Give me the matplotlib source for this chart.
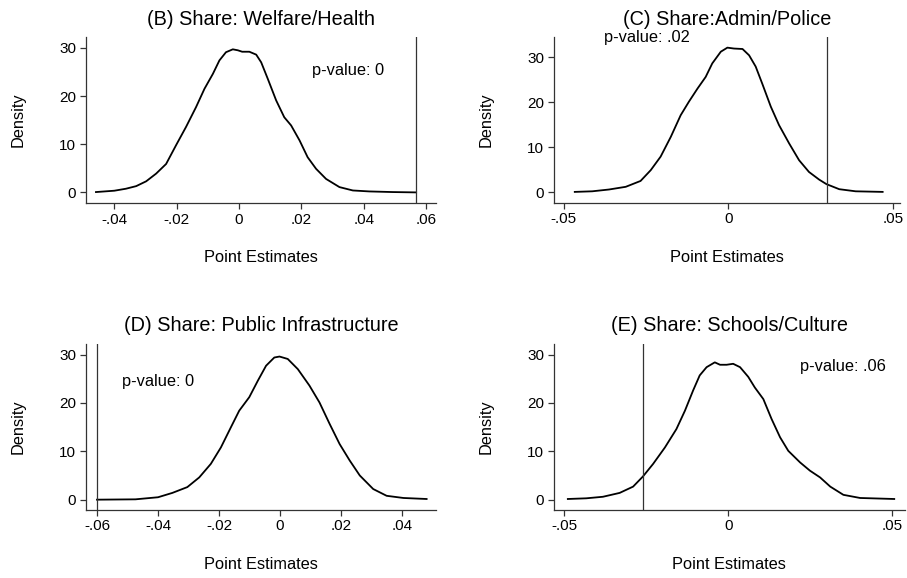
import matplotlib.pyplot as plt
import numpy as np

plt.rcParams['font.family'] = ['Liberation Sans', 'DejaVu Sans']

# (B) Welfare/Health
b_x = [-0.0459, -0.040, -0.0363, -0.033, -0.0298, -0.0266, -0.0234, -0.0202, -0.017,
       -0.0138, -0.0111, -0.0084, -0.0063, -0.0042, -0.002, -0.0004, 0.001, 0.0033,
       0.0055, 0.0071, 0.0092, 0.0119, 0.0145, 0.0167, 0.0194, 0.022, 0.0247,
       0.0279, 0.0322, 0.0365, 0.0418, 0.0493, 0.0568]
b_y = [0.07, 0.35, 0.76, 1.3, 2.3, 3.9, 5.9, 9.8, 13.6,
       17.7, 21.5, 24.6, 27.4, 29.1, 29.7, 29.5, 29.2, 29.2,
       28.6, 27.0, 23.6, 19.1, 15.6, 13.9, 10.8, 7.3, 4.9,
       2.8, 1.1, 0.4, 0.2, 0.07, 0.0]
b_obs = 0.0568

# (C) Admin/Police
c_x = [-0.0467, -0.0414, -0.0363, -0.0312, -0.0267, -0.0236, -0.0206, -0.0175, -0.0145,
       -0.012, -0.0094, -0.0069, -0.0049, -0.0023, -0.0003, 0.0017, 0.0043, 0.0063,
       0.0083, 0.0103, 0.0129, 0.0154, 0.0185, 0.0215, 0.0245, 0.0276, 0.0298,
       0.0337, 0.0387, 0.0469]
c_y = [0.07, 0.2, 0.6, 1.2, 2.5, 4.9, 7.9, 12.3, 17.1,
       20.1, 23.0, 25.6, 28.6, 31.2, 32.1, 31.9, 31.8, 30.4,
       27.9, 24.1, 19.0, 14.9, 10.8, 7.1, 4.5, 2.8, 1.8,
       0.67, 0.2, 0.07]
c_obs = 0.030

# (D) Public Infrastructure
d_x = [-0.060, -0.0474, -0.040, -0.0353, -0.0304, -0.0265, -0.0227, -0.0194, -0.0161,
       -0.0134, -0.0101, -0.0073, -0.0046, -0.0019, -0.0002, 0.0025, 0.0058, 0.0096,
       0.0129, 0.0162, 0.0195, 0.0228, 0.0261, 0.0305, 0.0349, 0.0404, 0.048]
d_y = [0.0, 0.07, 0.5, 1.4, 2.6, 4.6, 7.4, 10.8, 15.0,
       18.4, 21.2, 24.6, 27.7, 29.4, 29.6, 29.1, 27.0, 23.6,
       20.1, 15.7, 11.5, 8.1, 5.0, 2.2, 0.8, 0.35, 0.14]
d_obs = -0.0601

# (E) Schools/Culture
e_x = [-0.0489, -0.0433, -0.0382, -0.0331, -0.029, -0.026, -0.0229, -0.0193, -0.0158,
       -0.0132, -0.0107, -0.0087, -0.0066, -0.0041, -0.0025, -0.0005, 0.0015, 0.0036,
       0.0061, 0.0081, 0.0107, 0.0132, 0.0158, 0.0183, 0.0219, 0.0249, 0.028,
       0.0311, 0.0351, 0.0402, 0.0506]
e_y = [0.14, 0.28, 0.6, 1.4, 2.7, 4.8, 7.4, 10.8, 14.6,
       18.4, 22.6, 25.7, 27.4, 28.4, 27.9, 27.9, 28.1, 27.4,
       25.4, 23.2, 20.8, 16.7, 12.9, 10.1, 7.7, 6.0, 4.6,
       2.7, 1.0, 0.35, 0.14]
e_obs = -0.026

titles = ["(B) Share: Welfare/Health", "(C) Share:Admin/Police",
          "(D) Share: Public Infrastructure", "(E) Share: Schools/Culture"]
pvals = ["p-value: 0", "p-value: .02", "p-value: 0", "p-value: .06"]
pval_pos = [(0.0233, 25.7), (-0.0378, 34.6), (-0.0519, 24.8), (0.0218, 27.9)]

xticks = [[-0.04, -0.02, 0, 0.02, 0.04, 0.06],
          [-0.05, 0, 0.05],
          [-0.06, -0.04, -0.02, 0, 0.02, 0.04],
          [-0.05, 0, 0.05]]
xticklabels = [["-.04", "-.02", "0", ".02", ".04", ".06"],
               ["-.05", "0", ".05"],
               ["-.06", "-.04", "-.02", "0", ".02", ".04"],
               ["-.05", "0", ".05"]]
xlims = [(-0.0491, 0.0632), (-0.0531, 0.0521), (-0.0636, 0.0511), (-0.0532, 0.0538)]
ylims = [(-2.2, 32.2), (-2.33, 34.4), (-2.07, 32.2), (-2.07, 32.2)]

curves = [(b_x, b_y, b_obs), (c_x, c_y, c_obs), (d_x, d_y, d_obs), (e_x, e_y, e_obs)]
rects = [[0.0948, 0.6488, 0.386, 0.2867],
         [0.6105, 0.6493, 0.3815, 0.2862],
         [0.0948, 0.1182, 0.386, 0.2867],
         [0.6105, 0.1182, 0.387, 0.2867]]

fig = plt.figure(figsize=(9.07, 5.78), dpi=100)
for i in range(4):
    ax = fig.add_axes(rects[i])
    x, y, obs = curves[i]
    ax.plot(x, y, color='black', lw=1.3, solid_joinstyle='round')
    ax.axvline(obs, color='#333333', lw=0.9)
    ax.set_xlim(*xlims[i])
    ax.set_ylim(*ylims[i])
    ax.set_xticks(xticks[i])
    ax.set_xticklabels(xticklabels[i])
    ax.set_yticks([0, 10, 20, 30])
    ax.tick_params(labelsize=11, length=4, width=0.9, color='#333333', pad=3)
    for s in ['top', 'right']:
        ax.spines[s].set_visible(False)
    for s in ['left', 'bottom']:
        ax.spines[s].set_color('#333333')
        ax.spines[s].set_linewidth(0.9)
    ax.set_title(titles[i], fontsize=14.3, pad=9)
    ax.set_xlabel("Point Estimates", fontsize=11.8, labelpad=17)
    ax.set_ylabel("Density", fontsize=11.8, labelpad=24)
    px, py = pval_pos[i]
    ax.text(px, py, pvals[i], fontsize=11.8, va='center_baseline', ha='left', clip_on=False)

fig.savefig("out.png", dpi=100)
